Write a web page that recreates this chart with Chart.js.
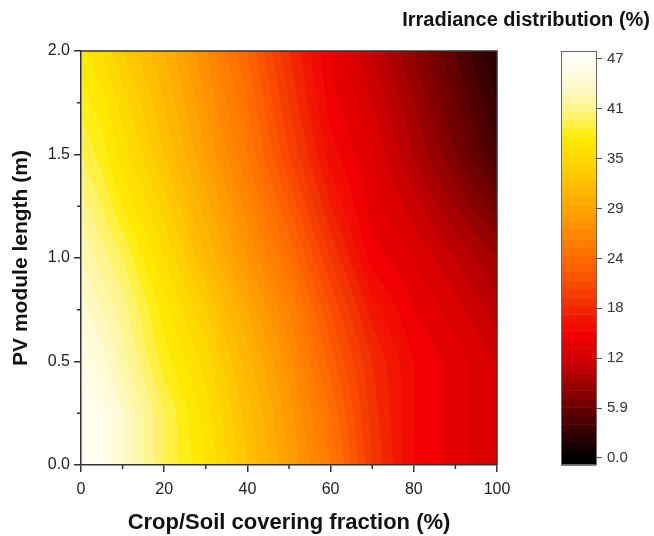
<!DOCTYPE html>
<html>
<head>
<meta charset="utf-8">
<script src="https://cdn.jsdelivr.net/npm/chart.js@4.4.0/dist/chart.umd.min.js"></script>
<style>
  html, body { margin: 0; padding: 0; background: #fff; }
</style>
</head>
<body>
<canvas id="irr" width="654" height="536"></canvas>
<script>
// columns: crop/soil covering fraction (%)
const coverFraction = [0, 5, 10, 20, 30, 40, 50, 60, 70, 80, 90, 100];
// rows: PV module length (m)
const moduleLength = [0, 0.25, 0.5, 0.75, 1.0, 1.25, 1.5, 1.75, 2.0];

// irradiance distribution (%), one row per module length
const irrL000 = [46, 46.5, 44, 40, 37, 33, 29, 25, 19, 15, 13.5, 12];
const irrL025 = [47, 46, 44, 40, 36.5, 32.5, 28.5, 24, 18.5, 15, 13.5, 12];
const irrL050 = [46, 44.5, 42.5, 38.5, 35.5, 31.5, 27.5, 22.5, 18, 15, 13.5, 12];
const irrL075 = [44.5, 43, 41.5, 37.5, 34, 30, 26, 21, 16.5, 14, 12.5, 10.5];
const irrL100 = [43, 41.5, 40, 36, 32, 28, 24, 19, 14.5, 13, 11, 9];
const irrL125 = [41.5, 40, 38, 34.5, 30.5, 26.5, 22, 17, 13.5, 11.5, 9, 6.5];
const irrL150 = [40, 38.5, 36.5, 33, 29, 25, 20, 15.5, 13, 10, 7, 4];
const irrL175 = [38.5, 37.5, 35.5, 32, 28, 24, 19, 14.5, 12, 9, 6, 3];
const irrL200 = [37.5, 36, 34, 31, 27, 23, 18, 14, 11, 8, 5, 2];
const irradiance = [irrL000, irrL025, irrL050, irrL075, irrL100, irrL125, irrL150, irrL175, irrL200];

// colour bar ticks
const cbTicks = [0, 5.9, 11.8, 17.7, 23.6, 29.5, 35.4, 41.3, 47.2];
const cbLabels = ['0.0', '5.9', '12', '18', '24', '29', '35', '41', '47'];

// colour map stops: value, r, g, b
const cmap = [
  [0, 0, 0, 0], [3, 50, 0, 0], [6, 105, 0, 0], [9, 160, 0, 0], [12, 212, 0, 0],
  [14.5, 240, 0, 0], [16.5, 242, 22, 0], [18, 242, 45, 0], [21, 250, 80, 0],
  [24, 255, 112, 0], [27, 255, 140, 0], [30, 255, 168, 0], [33, 255, 196, 0],
  [36, 255, 222, 0], [38, 255, 236, 0], [41, 255, 244, 130], [44, 255, 250, 205],
  [47, 255, 254, 245], [49, 255, 255, 255]
];

function colorFor(v) {
  if (v <= cmap[0][0]) return [0, 0, 0];
  for (let k = 1; k < cmap.length; k++) {
    if (v <= cmap[k][0]) {
      const a = cmap[k - 1], b = cmap[k];
      const t = (v - a[0]) / (b[0] - a[0]);
      return [a[1] + (b[1] - a[1]) * t, a[2] + (b[2] - a[2]) * t, a[3] + (b[3] - a[3]) * t];
    }
  }
  return [255, 255, 255];
}

function findCell(arr, v) {
  let i = 0;
  while (i < arr.length - 2 && v > arr[i + 1]) i++;
  let t = (v - arr[i]) / (arr[i + 1] - arr[i]);
  return [i, Math.min(1, Math.max(0, t))];
}

function fieldAt(xv, yv) {
  const [i, tx] = findCell(coverFraction, xv);
  const [j, ty] = findCell(moduleLength, yv);
  const lo = irradiance[j][i] * (1 - tx) + irradiance[j][i + 1] * tx;
  const hi = irradiance[j + 1][i] * (1 - tx) + irradiance[j + 1][i + 1] * tx;
  return lo * (1 - ty) + hi * ty;
}

const font = 'Arial, "Liberation Sans", sans-serif';
const barWidth = 35;

const contourPlugin = {
  id: 'contour',
  beforeDraw(chart) {
    const {ctx, chartArea: a, scales} = chart;
    const x = scales.x, y = scales.y, cb = scales.cb;
    const w = Math.round(a.right - a.left), h = Math.round(a.bottom - a.top);
    const off = document.createElement('canvas');
    off.width = w; off.height = h;
    const octx = off.getContext('2d');
    const img = octx.createImageData(w, h);
    const xv = [];
    for (let px = 0; px < w; px++) xv.push(x.getValueForPixel(a.left + px + 0.5));
    for (let py = 0; py < h; py++) {
      const yv = y.getValueForPixel(a.top + py + 0.5);
      for (let px = 0; px < w; px++) {
        const v = Math.floor(fieldAt(xv[px], yv)) + 0.5;
        const c = colorFor(v);
        const o = (py * w + px) * 4;
        img.data[o] = c[0]; img.data[o + 1] = c[1]; img.data[o + 2] = c[2]; img.data[o + 3] = 255;
      }
    }
    octx.putImageData(img, 0, 0);
    ctx.drawImage(off, a.left, a.top);

    // colour bar, drawn against its own scale
    const left = cb.left - barWidth;
    for (let v = Math.floor(cb.min); v < cb.max; v++) {
      const top = cb.getPixelForValue(Math.min(v + 1, cb.max));
      const bot = cb.getPixelForValue(Math.max(v, cb.min));
      const c = v < 0 ? [0, 0, 0] : colorFor(v + 0.5);
      ctx.fillStyle = `rgb(${c[0] | 0},${c[1] | 0},${c[2] | 0})`;
      ctx.fillRect(left, top, barWidth, bot - top + 0.5);
    }
    ctx.save();
    ctx.strokeStyle = '#666';
    ctx.lineWidth = 1;
    ctx.strokeRect(left + 0.5, cb.top + 0.5, barWidth, cb.bottom - cb.top - 1);
    ctx.restore();
  },
  afterDraw(chart) {
    const {ctx, chartArea: a, scales: {x, y}} = chart;
    ctx.save();
    ctx.strokeStyle = '#333';
    ctx.lineWidth = 1.5;
    ctx.beginPath();
    ctx.moveTo(a.left, a.top); ctx.lineTo(a.right, a.top); ctx.lineTo(a.right, a.bottom);
    // minor ticks
    [10, 30, 50, 70, 90].forEach(v => {
      const px = x.getPixelForValue(v);
      ctx.moveTo(px, a.bottom); ctx.lineTo(px, a.bottom + 4);
    });
    [0.25, 0.75, 1.25, 1.75].forEach(v => {
      const py = y.getPixelForValue(v);
      ctx.moveTo(a.left, py); ctx.lineTo(a.left - 4, py);
    });
    ctx.stroke();
    ctx.restore();
  }
};

new Chart(document.getElementById('irr'), {
  type: 'scatter',
  data: { datasets: [] },
  plugins: [contourPlugin],
  options: {
    responsive: false,
    animation: false,
    layout: { padding: { left: 0, right: 4, top: 0, bottom: 0 } },
    plugins: {
      legend: { display: false },
      tooltip: { enabled: false },
      title: {
        display: true,
        text: 'Irradiance distribution (%)',
        align: 'end',
        color: '#111',
        font: { family: font, size: 20, weight: 'bold' },
        padding: { top: 8, bottom: 19 }
      }
    },
    scales: {
      x: {
        type: 'linear',
        min: 0, max: 100,
        afterFit: s => { s.height = 71; },
        ticks: { stepSize: 20, padding: 8, color: '#222', font: { family: font, size: 16 } },
        grid: { drawOnChartArea: false, tickLength: 7, color: '#333', lineWidth: 1.5 },
        border: { color: '#333', width: 1.5 },
        title: {
          display: true,
          text: 'Crop/Soil covering fraction (%)',
          color: '#111',
          font: { family: font, size: 22, weight: 'bold' },
          padding: { top: 4, bottom: 0 }
        }
      },
      y: {
        type: 'linear',
        min: 0, max: 2,
        afterFit: s => { s.width = 81; },
        ticks: { stepSize: 0.5, padding: 4, color: '#222', font: { family: font, size: 16 },
                 callback: v => v.toFixed(1) },
        grid: { drawOnChartArea: false, tickLength: 7, color: '#333', lineWidth: 1.5 },
        border: { color: '#333', width: 1.5 },
        title: {
          display: true,
          text: 'PV module length (m)',
          color: '#111',
          font: { family: font, size: 21, weight: 'bold' },
          padding: { top: 9, bottom: 4 }
        }
      },
      gap: {
        type: 'linear',
        position: 'right',
        weight: 0,
        afterFit: s => { s.width = 99; },
        ticks: { display: false },
        grid: { display: false },
        border: { display: false }
      },
      cb: {
        type: 'linear',
        position: 'right',
        weight: 1,
        min: -0.83, max: 48.14,
        afterFit: s => { s.width = 54; },
        afterBuildTicks: s => { s.ticks = cbTicks.map(v => ({ value: v })); },
        ticks: { padding: 5, color: '#333', font: { family: font, size: 15 },
                 callback: (v, i) => cbLabels[i] },
        grid: { drawOnChartArea: false, tickLength: 6, color: '#555', lineWidth: 1 },
        border: { display: false }
      }
    }
  }
});
</script>
</body>
</html>
